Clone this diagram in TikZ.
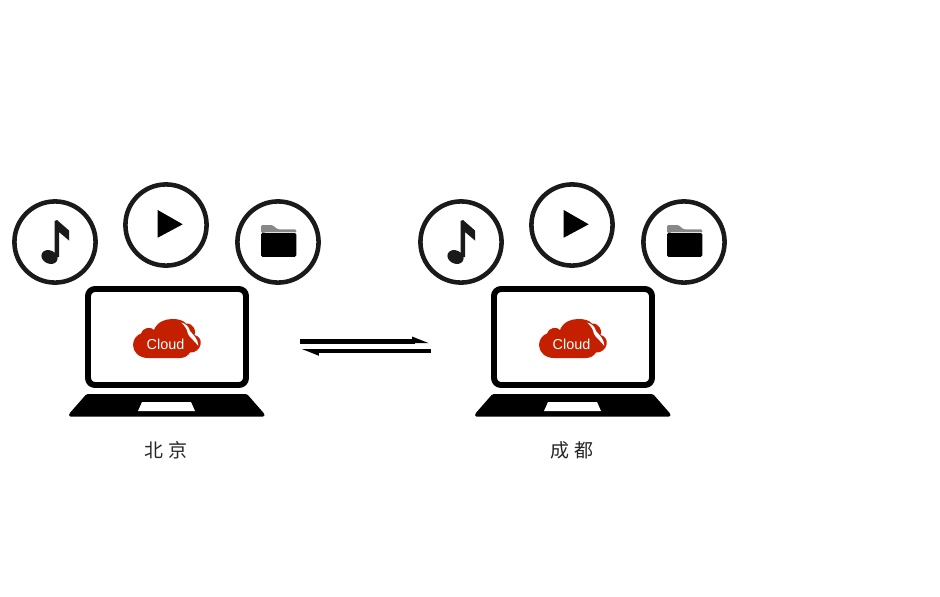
\documentclass[tikz,border=0pt]{standalone}
\usepackage{fontspec}
\setsansfont{Liberation Sans}
\newfontfamily\cjk{Noto Sans CJK SC}
\usetikzlibrary{arrows.meta}

\definecolor{cloudred}{RGB}{196,32,0}
\definecolor{ringblack}{RGB}{26,26,26}
\definecolor{tabgray}{RGB}{136,136,136}

\tikzset{
    iconring/.style={circle,draw=ringblack,line width=2.6pt,fill=white,minimum size=46.2pt,inner sep=0pt},
    citylabel/.style={font=\cjk\fontsize{10.8pt}{12pt}\selectfont,text=black!85,inner sep=0pt},
    cloudtext/.style={font=\sffamily\fontsize{8.2pt}{9pt}\selectfont,text=white,inner sep=0pt},
    flowline/.style={line width=2.6pt,line cap=butt,-{Stealth[harpoon,length=7.6pt,width=5pt,inset=0pt]}},
    station/.pic={
        % icons above the laptop
        \node[iconring] (music) at (55,242) {};
        \node[iconring] (play) at (166,225) {};
        \node[iconring] (folder) at (278,242) {};
        \fill[ringblack,rotate around={-25:(49.5,257)}] (49.5,257) ellipse (8.4 and 6.6);
        \fill[ringblack] (54.5,257) -- (54.5,221) -- (57,220) -- (69,230.5) -- (69,240.5) -- (59,232) -- (59,257) -- cycle;
        \fill (157.7,210) -- (182.7,224.3) -- (157.7,237.7) -- cycle;
        \fill[tabgray,rounded corners=0.8pt] (261,233) -- (261,225) -- (272.5,225) -- (277.5,229.3) -- (296.3,229.3) -- (296.3,233) -- cycle;
        \fill[rounded corners=0.8pt] (261,233) rectangle (296.3,256.8);
        \draw[white!75!tabgray,line width=0.4pt] (265,232.3) -- (295.5,232.3);
        % laptop
        \draw[line width=3.4pt,rounded corners=4pt] (88,289) rectangle (246,385);
        \fill[rounded corners=0.8pt] (86.5,394) -- (247,394) -- (264.5,414) -- (264.5,416.5) -- (69,416.5) -- (69,414) -- cycle;
        \fill[white] (142,402) -- (191,402) -- (195,411) -- (138,411) -- cycle;
        % cloud logo
        \fill[cloudred] (148,358) .. controls (139,358) and (133,352) .. (133,345)
            .. controls (133,339) and (137,335) .. (141,333.5)
            .. controls (142,328) and (151,326) .. (154,330)
            .. controls (157,322) and (165,319) .. (172,319)
            .. controls (178,319) and (183,320) .. (186,323.5)
            .. controls (193,323) and (197,331) .. (194.5,335)
            .. controls (199,336) and (201.5,340) .. (200.7,344)
            .. controls (200,349) and (195,353) .. (190,352.5)
            .. controls (188,356) and (184,358) .. (180,358) -- cycle;
        \fill[white] (181,322.5) .. controls (186,323.5) and (189,327) .. (190,331)
            .. controls (193,335) and (198,338) .. (198.2,346)
            .. controls (195,341) and (190,338) .. (188,334)
            .. controls (187,329) and (185,326) .. (181,322.5) -- cycle;
        \node[cloudtext] (cloudname) at (165.5,344.5) {Cloud};
    }
}

\begin{document}
\begin{tikzpicture}[x=0.02cm,y=-0.02cm,line cap=round,line join=round]
        \useasboundingbox (0,0) rectangle (940,596);

        \pic (beijing) at (0,0) {station};
        \pic (chengdu) at (406,0) {station};

        \node[citylabel] (beijinglabel) at (166,450) {北\hspace{3pt}京};
        \node[citylabel] (chengdulabel) at (572,450) {成\hspace{3pt}都};

        \coordinate (goout) at (300,341.5);
        \coordinate (goin) at (430.5,341.5);
        \coordinate (backout) at (431,350.8);
        \coordinate (backin) at (300.5,350.8);
        \draw[flowline] (goout) -- (goin);
        \draw[flowline] (backout) -- (backin);
    \end{tikzpicture}
\end{document}
